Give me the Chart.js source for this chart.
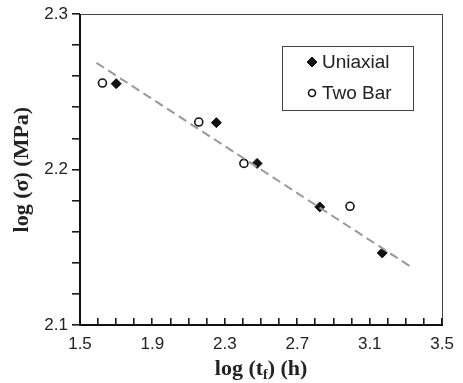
<!DOCTYPE html>
<html>
<head>
<meta charset="utf-8">
<script src="https://cdn.jsdelivr.net/npm/chart.js@4/dist/chart.umd.min.js"></script>
<style>
html,body{margin:0;padding:0;background:#fff;}
#wrap{width:463px;height:383px;position:relative;}
</style>
</head>
<body>
<div id="wrap"><canvas id="c" width="463" height="383"></canvas></div>
<script>
// Data
const uniaxialX = [1.70, 2.253, 2.478, 2.824, 3.169];
const uniaxialY = [2.2553, 2.2302, 2.204, 2.176, 2.1464];
const twoBarX = [1.624, 2.156, 2.405, 2.991];
const twoBarY = [2.2557, 2.2306, 2.204, 2.1764];
const trendX = [1.591, 3.324];
const trendY = [2.2687, 2.1377];
const xLabelTicks = ['1.5', '1.9', '2.3', '2.7', '3.1', '3.5'];
const yLabelTicks = ['2.1', '2.2', '2.3'];
const seriesNames = ['Uniaxial', 'Two Bar'];
const xRange = [1.5, 3.5, 0.1];   // min, max, minor step
const yRange = [2.1, 2.3, 0.02];

const toPts = (xs, ys) => xs.map((x, i) => ({x: x, y: ys[i]}));
const stepsOf = r => { const n = Math.round((r[1] - r[0]) / r[2]); const out = []; for (let i = 0; i <= n; i++) out.push(r[0] + i * r[2]); return out; };

const frameTicksPlugin = {
  id: 'frameTicks',
  afterDraw(chart) {
    const ctx = chart.ctx, a = chart.chartArea;
    const xs = chart.scales.x, ys = chart.scales.y;
    ctx.save();
    ctx.setLineDash([]);
    // top & right frame (thin)
    ctx.fillStyle = '#444';
    ctx.fillRect(a.left, Math.round(a.top), Math.round(a.right - a.left) + 1, 1);
    ctx.fillRect(Math.round(a.right), Math.round(a.top), 1, Math.round(a.bottom - a.top));
    // tick marks: x inward, y outward
    ctx.fillStyle = '#1a1a1a';
    stepsOf(xRange).forEach(v => {
      const px = Math.round(xs.getPixelForValue(v));
      ctx.fillRect(px - 1, Math.round(a.bottom) - 7, 1.6, 7);
    });
    stepsOf(yRange).forEach(v => {
      const py = Math.round(ys.getPixelForValue(v));
      ctx.fillRect(Math.round(a.left) - 8, py - 1, 8, 1.6);
    });
    // axis lines (thick)
    ctx.fillStyle = '#111';
    ctx.fillRect(Math.round(a.left) - 1, Math.round(a.top), 2, Math.round(a.bottom - a.top) + 1);
    ctx.fillRect(Math.round(a.left) - 1, Math.round(a.bottom) - 1, Math.round(a.right - a.left) + 2, 2);
    ctx.restore();
  }
};

const xTitlePlugin = {
  id: 'xtitle',
  afterDraw(chart) {
    const ctx = chart.ctx, a = chart.chartArea;
    ctx.save();
    ctx.fillStyle = '#222';
    ctx.textBaseline = 'alphabetic';
    const big = 'bold 22px "Liberation Serif"';
    const small = 'bold 14px "Liberation Serif"';
    const p1 = 'log (t', p2 = 'f', p3 = ') (h)';
    ctx.font = big; const w1 = ctx.measureText(p1).width; const w3 = ctx.measureText(p3).width;
    ctx.font = small; const w2 = ctx.measureText(p2).width;
    const total = w1 + w2 + w3;
    let x = (a.left + a.right) / 2 - total / 2;
    const y = 375;
    ctx.font = big; ctx.fillText(p1, x, y); x += w1;
    ctx.font = small; ctx.fillText(p2, x, y + 4); x += w2;
    ctx.font = big; ctx.fillText(p3, x, y);
    ctx.restore();
  }
};

const legendPlugin = {
  id: 'boxlegend',
  afterDraw(chart) {
    const ctx = chart.ctx;
    ctx.save();
    ctx.setLineDash([]);
    ctx.strokeStyle = '#444';
    ctx.lineWidth = 1;
    ctx.strokeRect(282.5, 46.5, 131, 64);
    ctx.font = '19px "Liberation Sans"';
    ctx.textBaseline = 'middle';
    const rows = [62, 93];
    [0, 1].forEach(i => {
      const ds = chart.data.datasets[i];
      ctx.fillStyle = ds.pointBackgroundColor; ctx.strokeStyle = ds.pointBorderColor;
      ctx.lineWidth = ds.borderWidth;
      ctx.beginPath();
      if (ds.pointStyle === 'circle') {
        ctx.arc(312, rows[i], 3.5, 0, Math.PI * 2);
      } else {
        ctx.moveTo(312, rows[i] - 5); ctx.lineTo(317, rows[i]); ctx.lineTo(312, rows[i] + 5); ctx.lineTo(307, rows[i]); ctx.closePath();
      }
      ctx.fill(); ctx.stroke();
      ctx.fillStyle = '#222';
      ctx.fillText(seriesNames[i], 322, rows[i] + 1);
    });
    ctx.restore();
  }
};

new Chart(document.getElementById('c'), {
  type: 'scatter',
  data: {
    datasets: [
      {
        label: seriesNames[0],
        data: toPts(uniaxialX, uniaxialY),
        pointStyle: 'rectRot', pointRadius: 5, pointHoverRadius: 5,
        pointBackgroundColor: '#111', pointBorderColor: '#111', borderWidth: 1,
        order: 1
      },
      {
        label: seriesNames[1],
        data: toPts(twoBarX, twoBarY),
        pointStyle: 'circle', pointRadius: 4, pointHoverRadius: 4,
        pointBackgroundColor: '#fff', pointBorderColor: '#111', borderWidth: 1.6,
        order: 1
      },
      {
        type: 'line',
        label: 'trend',
        data: toPts(trendX, trendY),
        borderColor: '#999', borderWidth: 2, borderDash: [9, 5],
        pointRadius: 0, fill: false, showLine: true,
        order: 0
      }
    ]
  },
  options: {
    responsive: false,
    animation: false,
    devicePixelRatio: 1,
    layout: { padding: { left: 0, right: 16, top: 12, bottom: 0 } },
    plugins: { legend: { display: false }, tooltip: { enabled: false } },
    scales: {
      x: {
        type: 'linear', min: xRange[0], max: xRange[1],
        afterFit: s => { s.height = 58; },
        border: { display: false },
        grid: { display: false, drawTicks: false },
        ticks: {
          stepSize: xRange[2], autoSkip: false, maxRotation: 0, padding: 9, maxTicksLimit: 100,
          color: '#222', font: { family: '"Liberation Sans"', size: 17 },
          callback: v => {
            const s = v.toFixed(1);
            return xLabelTicks.includes(s) && Math.abs(v - parseFloat(s)) < 1e-6 ? s : '';
          }
        }
      },
      y: {
        type: 'linear', min: yRange[0], max: yRange[1],
        afterFit: s => { s.width = 80; },
        border: { display: false },
        grid: { display: false, drawTicks: true, tickLength: 8 },
        ticks: {
          stepSize: yRange[2], autoSkip: false, padding: 4, maxTicksLimit: 100,
          color: '#222', font: { family: '"Liberation Sans"', size: 17 },
          callback: v => {
            const s = v.toFixed(1);
            return yLabelTicks.includes(s) && Math.abs(v - parseFloat(s)) < 1e-6 ? s : '';
          }
        },
        title: {
          display: true, text: 'log (σ) (MPa)', color: '#222',
          font: { family: '"Liberation Serif"', size: 22, weight: 'bold' },
          padding: { top: 9, bottom: 0 }
        }
      }
    }
  },
  plugins: [frameTicksPlugin, xTitlePlugin, legendPlugin]
});
</script>
</body>
</html>
